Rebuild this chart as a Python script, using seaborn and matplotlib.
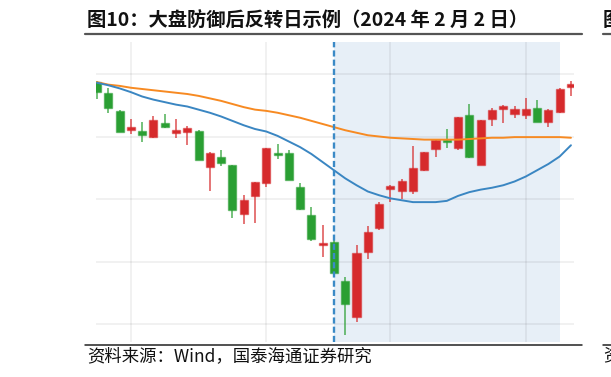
import numpy as np
import pandas as pd
import matplotlib
matplotlib.use("Agg")
import matplotlib.pyplot as plt
from matplotlib.lines import Line2D
import seaborn as sns

# ---- data ----
opens = [2987, 2969, 2941, 2910, 2909, 2899, 2921, 2906, 2907, 2909,
         2852, 2868, 2854, 2776, 2805, 2825, 2874, 2873, 2820, 2774,
         2726, 2731, 2669, 2612, 2716, 2753, 2816, 2813, 2813, 2846,
         2880, 2894, 2881, 2934, 2855, 2928, 2944, 2936, 2935, 2945,
         2924, 2939, 2979]
highs = [2989, 2978, 2942, 2928, 2923, 2933, 2936, 2928, 2917, 2910,
         2875, 2878, 2855, 2807, 2828, 2882, 2888, 2878, 2826, 2787,
         2758, 2741, 2676, 2726, 2757, 2796, 2822, 2832, 2885, 2876,
         2895, 2912, 2932, 2952, 2927, 2945, 2950, 2949, 2961, 2958,
         2944, 2977, 2989]
lows = [2960, 2937, 2907, 2904, 2891, 2897, 2914, 2898, 2886, 2862,
        2813, 2853, 2769, 2760, 2762, 2819, 2864, 2830, 2783, 2733,
        2708, 2681, 2582, 2603, 2704, 2750, 2796, 2800, 2808, 2845,
        2867, 2882, 2878, 2866, 2854, 2917, 2922, 2930, 2928, 2923,
        2916, 2938, 2965]
closes = [2971, 2945, 2908, 2915, 2902, 2926, 2915, 2911, 2914, 2863,
          2874, 2858, 2782, 2798, 2827, 2881, 2870, 2831, 2784, 2736,
          2729, 2682, 2632, 2713, 2747, 2792, 2821, 2829, 2850, 2875,
          2894, 2891, 2931, 2867, 2926, 2943, 2949, 2944, 2944, 2924,
          2942, 2976, 2984]
ma_short = [2986, 2982, 2977, 2971, 2964, 2959, 2955, 2951, 2948, 2943,
            2938, 2932, 2925, 2918, 2912, 2908, 2901, 2892, 2883, 2872,
            2859, 2846, 2833, 2822, 2812, 2806, 2801, 2798, 2795, 2795,
            2795, 2797, 2805, 2811, 2815, 2818, 2822, 2828, 2836, 2846,
            2856, 2868, 2886]
ma_long = [2987, 2983, 2981, 2978, 2976, 2974, 2972, 2970, 2968, 2965,
           2961, 2957, 2952, 2947, 2943, 2941, 2938, 2934, 2930, 2925,
           2920, 2915, 2910, 2906, 2902, 2900, 2898, 2897, 2896, 2895,
           2895, 2895, 2895, 2896, 2897, 2898, 2898, 2899, 2899, 2899,
           2899, 2899, 2898]
grid_days = [3, 15, 26, 38]
y_levels = [2600, 2700, 2800, 2900, 3000]
signal_day = 21
window_end = 41
title = "图10：大盘防御后反转日示例（2024 年 2 月 2 日）"
source = "资料来源：Wind，国泰海通证券研究"

df = pd.DataFrame({"day": np.arange(len(opens)), "open": opens, "high": highs,
                   "low": lows, "close": closes,
                   "ma_short": ma_short, "ma_long": ma_long})

RED = "#d62a2c"
GREEN = "#2a9f33"

sns.set_theme(style="white")
plt.rcParams['font.family'] = ['Noto Sans CJK SC', 'DejaVu Sans']

W, H = 611, 377
fig = plt.figure(figsize=(W / 100, H / 100), dpi=100)
fig.patch.set_facecolor("white")
ax = fig.add_axes([96 / W, 1 - 342 / H, (574 - 96) / W, 300 / H])
ax.set_facecolor("white")

# shaded window and signal line
ax.axvspan(signal_day, window_end, color="#e7eff7", zorder=0, lw=0)
for yv in y_levels:
    ax.axhline(yv, color=(0, 0, 0, 0.07), lw=1.1, zorder=0.5)
for d in grid_days:
    ax.axvline(d, color=(0, 0, 0, 0.07), lw=1.1, zorder=0.5)
ax.axvline(signal_day, color="#3b8ac6", lw=1.7, ls=(0, (2.6, 1.3)), zorder=6)

# candles
up = df["close"] >= df["open"]
cols = np.where(up, RED, GREEN)
ax.vlines(df["day"], df["low"], df["high"], colors=cols, lw=1.3, alpha=0.7, zorder=3)
body_bottom = np.minimum(df["open"], df["close"])
body_h = np.maximum((df["close"] - df["open"]).abs(), 2.5)
ax.bar(df["day"], body_h, bottom=body_bottom, width=0.72, color=cols,
       edgecolor=[c + "88" for c in cols], linewidth=1.0, zorder=4)

# moving averages
sns.lineplot(data=df, x="day", y="ma_long", color="#f78a22", lw=1.4, ax=ax, zorder=5)
sns.lineplot(data=df, x="day", y="ma_short", color="#3a86c2", lw=1.4, ax=ax, zorder=5)

ax.set_xlim(-0.09, 42.27)
ax.set_ylim(2571.2, 3051.2)
ax.set_xlabel("")
ax.set_ylabel("")
ax.set_xticks([])
ax.set_yticks([])
for s in ax.spines.values():
    s.set_visible(False)

# title, rules, source
fig.text(87 / W, 1 - 21 / H, title, fontsize=13.9, weight="bold", va="center",
         ha="left", color="#111111")
fig.add_artist(Line2D([85 / W, 582 / W], [1 - 33.5 / H] * 2, color="#555555", lw=1.6))
fig.add_artist(Line2D([85 / W, 582 / W], [1 - 344.7 / H] * 2, color="#222222", lw=1.1))
fig.text(87 / W, 1 - 356 / H, source, fontsize=12.5, va="center", ha="left",
         color="#111111")
# fragments of the neighbouring column at the right edge (cut off in the reference too)
fig.text(603 / W, 1 - 21 / H, "图", fontsize=13.9, weight="bold", va="center",
         ha="left", color="#111111")
fig.add_artist(Line2D([603 / W, 1.0], [1 - 33.5 / H] * 2, color="#555555", lw=1.6))
fig.add_artist(Line2D([603 / W, 1.0], [1 - 344.7 / H] * 2, color="#222222", lw=1.1))
fig.text(603 / W, 1 - 356 / H, "资", fontsize=12.5, va="center", ha="left",
         color="#111111")

fig.savefig("out.png", dpi=100)
